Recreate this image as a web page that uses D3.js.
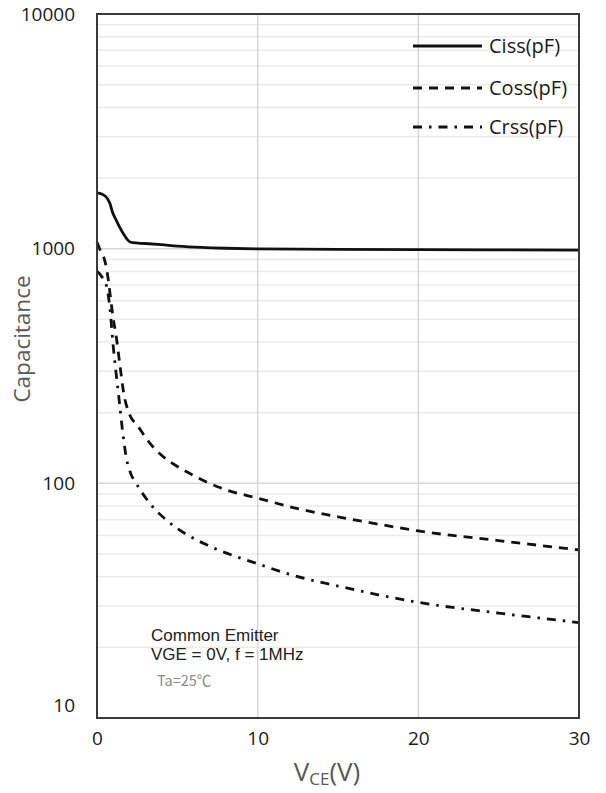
<!DOCTYPE html>
<html>
<head>
<meta charset="utf-8">
<script src="https://cdn.jsdelivr.net/npm/d3@7"></script>
<style>
  body { margin: 0; background: #fff; }
  svg { display: block; }
</style>
</head>
<body>
<svg id="chart" width="606" height="793"></svg>
<script>
// Axis ticks
const vceTicks = [0, 10, 20, 30];
const capTicks = [10, 100, 1000, 10000];

// Series names (legend order)
const seriesNames = ["Ciss(pF)", "Coss(pF)", "Crss(pF)"];

// Input capacitance Ciss vs VCE
const cissV = [0, 0.4, 0.8, 0.95, 1.2, 1.45, 1.7, 1.9, 2.2, 3, 4, 5, 6.5, 8, 10, 15, 20, 25, 30];
const cissC = [1727, 1695, 1560, 1440, 1320, 1220, 1140, 1090, 1060, 1052, 1040, 1026, 1012, 1004, 998, 993, 990, 988, 986];

// Output capacitance Coss vs VCE
const cossV = [0, 0.2, 0.5, 0.7, 0.85, 1.0, 1.2, 1.4, 1.65, 2.05, 2.5, 3.3, 4, 5, 6, 7, 8, 10, 12.5, 15, 17.5, 20, 25, 30];
const cossC = [1065, 985, 880, 740, 610, 510, 420, 330, 245, 195, 177, 148, 132, 118, 108, 100, 94, 86.5, 78, 72, 67, 62.7, 57, 52];

// Reverse transfer capacitance Crss vs VCE
const crssV = [0, 0.3, 0.6, 0.8, 1.0, 1.2, 1.4, 1.6, 1.85, 2.1, 2.4, 3.3, 4.4, 5.5, 7, 10, 12.5, 15, 17.5, 20, 25, 30];
const crssC = [800, 760, 690, 560, 390, 290, 220, 165, 126, 110, 101, 82, 69, 61, 54, 45.4, 40, 36.5, 33.5, 31.1, 28, 25.5];

const series = [
  { name: seriesNames[0], v: cissV, c: cissC, dash: null },
  { name: seriesNames[1], v: cossV, c: cossC, dash: "9,7" },
  { name: seriesNames[2], v: crssV, c: crssC, dash: "9,7,2.5,7" }
];

const margin = { left: 97, right: 27, top: 14, bottom: 75 };
const W = 606, H = 793;
const pw = W - margin.left - margin.right;
const ph = H - margin.top - margin.bottom;

const svg = d3.select("#chart");
const g = svg.append("g").attr("transform", `translate(${margin.left},${margin.top})`);

const x = d3.scaleLinear().domain([0, 30]).range([0, pw]);
const y = d3.scaleLog().domain([10, 10000]).range([ph, 0]);

// Minor horizontal gridlines (2..9 of each decade)
const minor = [];
for (let d = 10; d < 10000; d *= 10) {
  for (let k = 2; k <= 9; k++) minor.push(d * k);
}
g.append("g").selectAll("line").data(minor).join("line")
  .attr("x1", 0).attr("x2", pw)
  .attr("y1", d => y(d)).attr("y2", d => y(d))
  .attr("stroke", "#ececec").attr("stroke-width", 1.5);

// Major horizontal gridlines
g.append("g").selectAll("line").data(capTicks.slice(1, -1)).join("line")
  .attr("x1", 0).attr("x2", pw)
  .attr("y1", d => y(d)).attr("y2", d => y(d))
  .attr("stroke", "#d6d6d6").attr("stroke-width", 1.5);

// Vertical gridlines
g.append("g").selectAll("line").data(vceTicks.slice(1, -1)).join("line")
  .attr("x1", d => x(d)).attr("x2", d => x(d))
  .attr("y1", 0).attr("y2", ph)
  .attr("stroke", "#d6d6d6").attr("stroke-width", 1.5);

// Curves
const line = d3.line()
  .x(d => x(d[0]))
  .y(d => y(d[1]))
  .curve(d3.curveMonotoneX);

series.forEach(s => {
  const pts = s.v.map((v, i) => [v, s.c[i]]);
  g.append("path")
    .datum(pts)
    .attr("d", line)
    .attr("fill", "none")
    .attr("stroke", "#111")
    .attr("stroke-width", 2.8)
    .attr("stroke-dasharray", s.dash);
});

// Plot frame
g.append("rect")
  .attr("x", 0).attr("y", 0).attr("width", pw).attr("height", ph)
  .attr("fill", "none").attr("stroke", "#3a3a3a").attr("stroke-width", 2);

// Axes
const yAxis = g.append("g")
  .call(d3.axisLeft(y).tickValues(capTicks).tickFormat(d3.format("d")).tickSize(0).tickPadding(22));
yAxis.select(".domain").remove();
yAxis.selectAll("text")
  .attr("font-family", "'Open Sans', sans-serif")
  .attr("font-size", 19)
  .attr("fill", "#1a1a1a");
yAxis.selectAll(".tick").filter(d => d === 10).select("text").attr("dy", "-0.32em");

const xAxis = g.append("g")
  .attr("transform", `translate(0,${ph})`)
  .call(d3.axisBottom(x).tickValues(vceTicks).tickSize(0).tickPadding(14));
xAxis.select(".domain").remove();
xAxis.selectAll("text")
  .attr("font-family", "'Open Sans', sans-serif")
  .attr("font-size", 19)
  .attr("fill", "#1a1a1a");

// Axis titles
svg.append("text")
  .attr("transform", "translate(30,339) rotate(-90)")
  .attr("text-anchor", "middle")
  .attr("font-family", "'Open Sans', sans-serif")
  .attr("font-size", 22.5)
  .attr("fill", "#595959")
  .text("Capacitance");

const xt = svg.append("text")
  .attr("x", 327).attr("y", 781)
  .attr("text-anchor", "middle")
  .attr("font-family", "'Open Sans', sans-serif")
  .attr("font-size", 26)
  .attr("fill", "#595959");
xt.append("tspan").text("V");
xt.append("tspan").attr("font-size", 17).attr("dy", 4).text("CE");
xt.append("tspan").attr("dy", -4).text("(V)");

// Legend
const legend = g.append("g");
series.forEach((s, i) => {
  const ly = [32, 74, 113][i];
  legend.append("line")
    .attr("x1", 316).attr("x2", 385)
    .attr("y1", ly).attr("y2", ly)
    .attr("stroke", "#111").attr("stroke-width", 2.8)
    .attr("stroke-dasharray", s.dash);
  legend.append("text")
    .attr("x", 392).attr("y", ly + 7)
    .attr("font-family", "'Open Sans', sans-serif")
    .attr("font-size", 20)
    .attr("fill", "#1a1a1a")
    .text(s.name);
});

// Test conditions
const note = g.append("g").attr("font-family", "'Liberation Sans', Arial, sans-serif");
note.append("text").attr("x", 54).attr("y", 627).attr("font-size", 17).attr("fill", "#222").text("Common Emitter");
note.append("text").attr("x", 54).attr("y", 646).attr("font-size", 17).attr("fill", "#222").text("VGE = 0V, f = 1MHz");
note.append("text").attr("x", 60).attr("y", 672)
  .attr("font-family", "'Noto Sans CJK SC', sans-serif")
  .attr("font-size", 14.5).attr("fill", "#8a8a8a").text("Ta=25℃");
</script>
</body>
</html>
